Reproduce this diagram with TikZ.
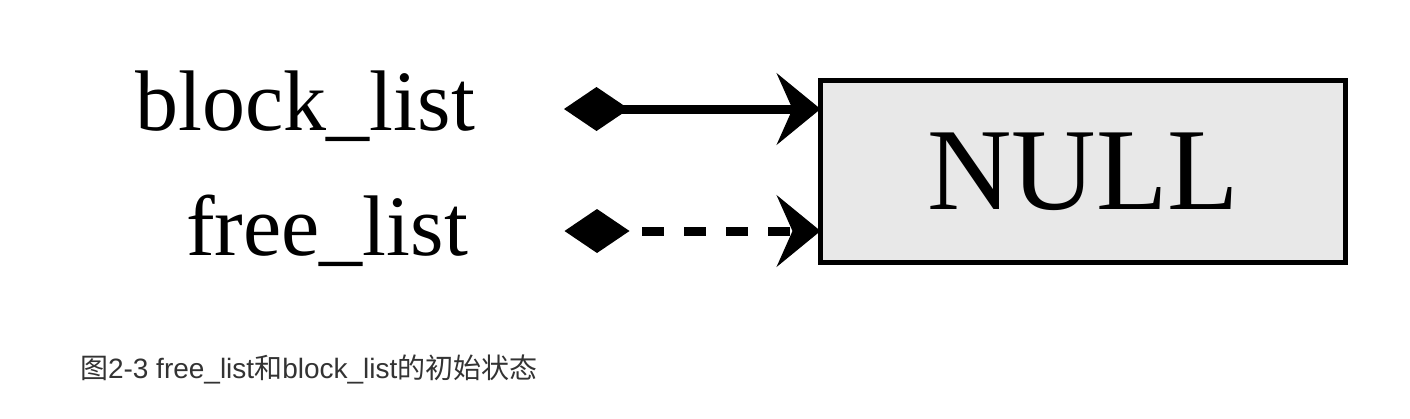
\documentclass[tikz,border=0pt]{standalone}
\usepackage{fontspec}
\setmainfont{Liberation Serif}
\newfontfamily\cjkfont{Noto Sans CJK SC}
\newfontfamily\capsans{Liberation Sans}
\usetikzlibrary{arrows.meta,shapes.geometric}
\definecolor{boxfill}{HTML}{E8E8E8}
\definecolor{captext}{HTML}{333333}
\tikzset{
  lbl/.style={inner sep=0pt, outer sep=0pt, font=\fontsize{86}{100}\selectfont, anchor=base east},
  nullbox/.style={draw, line width=5pt, fill=boxfill, minimum width=525pt, minimum height=182pt, inner sep=0pt, outer sep=0pt, font=\fontsize{117}{130}\selectfont},
  diam/.style={diamond, fill=black, draw=none, inner sep=0pt, outer sep=0pt, minimum width=65pt, minimum height=44pt},
  ptr/.style={line width=9pt, -{Stealth[length=44pt,width=72pt,inset=16pt,line width=1pt]}},
  ptrdash/.style={ptr, dash pattern=on 22pt off 20pt, dash phase=39pt},
  caption/.style={inner sep=0pt, outer sep=0pt, anchor=base west, text=captext, font=\fontsize{28}{32}\selectfont}
}
\begin{document}
\begin{tikzpicture}[x=1pt,y=-1pt]
\useasboundingbox (0,0) rectangle (1410,418);
\node[lbl] (bl) at (475,130) {block\_list};
\node[lbl] (fl) at (468,255) {free\_list};
\node[nullbox] (null) at (1083,171.5) {NULL};
\coordinate (bs) at (596.5,109);
\coordinate (fs) at (597,231);
\draw[ptr] (bs) -- (bs -| null.west);
\draw[ptrdash] (fs) -- (fs -| null.west);
\node[diam] (d1) at (bs) {};
\node[diam] (d2) at (fs) {};
\node[caption] (cap) at (80,378) {{\cjkfont 图}{\capsans 2-3 free\_list}{\cjkfont 和}{\capsans block\_list}{\cjkfont 的初始状态}};
\end{tikzpicture}
\end{document}
